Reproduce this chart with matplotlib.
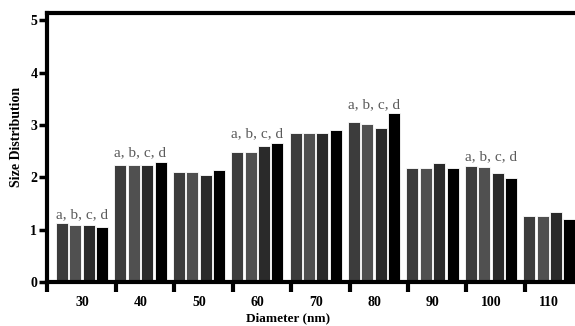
import numpy as np
import matplotlib
matplotlib.use("Agg")
from matplotlib import pyplot as plt

# data
diameters = ["30", "40", "50", "60", "70", "80", "90", "100", "110"]
series_a = [1.12, 2.24, 2.10, 2.48, 2.84, 3.05, 2.17, 2.22, 1.27]
series_b = [1.09, 2.24, 2.10, 2.48, 2.84, 3.02, 2.17, 2.20, 1.27]
series_c = [1.09, 2.24, 2.04, 2.59, 2.84, 2.94, 2.28, 2.09, 1.34]
series_d = [1.05, 2.30, 2.14, 2.66, 2.90, 3.22, 2.18, 1.98, 1.20]
letter_groups = ["30", "40", "60", "80", "100"]
letter_text = "a, b, c, d"

plt.rcParams['font.family'] = ['Liberation Serif', 'DejaVu Serif']

fig = plt.figure(figsize=(5.75, 3.26), dpi=100)
ax = fig.add_axes([47 / 575, 44 / 326, 528 / 575, 269.5 / 326])

x = np.arange(len(diameters))
colors = ["#3c3c3c", "#505050", "#2a2a2a", "#000000"]
offsets = [-0.345, -0.115, 0.115, 0.345]
allseries = [series_a, series_b, series_c, series_d]
for s, off, col in zip(allseries, offsets, colors):
    ax.bar(x + off, s, width=0.205, color=col, edgecolor="white", linewidth=0.6, zorder=2)

for g in letter_groups:
    i = diameters.index(g)
    top = max(s[i] for s in allseries)
    ax.text(i, top + 0.05, letter_text, ha="center", va="bottom",
            fontsize=11, color="#5a5a5a")

ax.set_xlim(-0.6, 8.44)
ax.set_ylim(0, 5.15)

for side in ["left", "bottom", "top"]:
    ax.spines[side].set_linewidth(3)
ax.spines["right"].set_visible(False)

ax.set_yticks([0, 1, 2, 3, 4, 5])
ax.tick_params(axis="y", direction="out", length=6, width=2.5, pad=1,
               labelsize=10)
for lab in ax.get_yticklabels():
    lab.set_fontweight("bold")

ax.set_xticks(x)
ax.set_xticklabels(diameters, fontweight="bold")
ax.set_xticks(list(x[:-1] + 0.58) + [-0.6], minor=True)
ax.tick_params(axis="x", which="major", length=0, pad=10, labelsize=10)
ax.tick_params(axis="x", which="minor", direction="out", length=7.5, width=3)

ax.set_ylabel("Size Distribution", fontweight="bold", fontsize=10)
ax.yaxis.set_label_coords(-0.046, 0.54)
ax.set_xlabel("Diameter (nm)", fontweight="bold", fontsize=9.5)
ax.xaxis.set_label_coords(0.456, -0.112)

fig.savefig("out.png", dpi=100)
